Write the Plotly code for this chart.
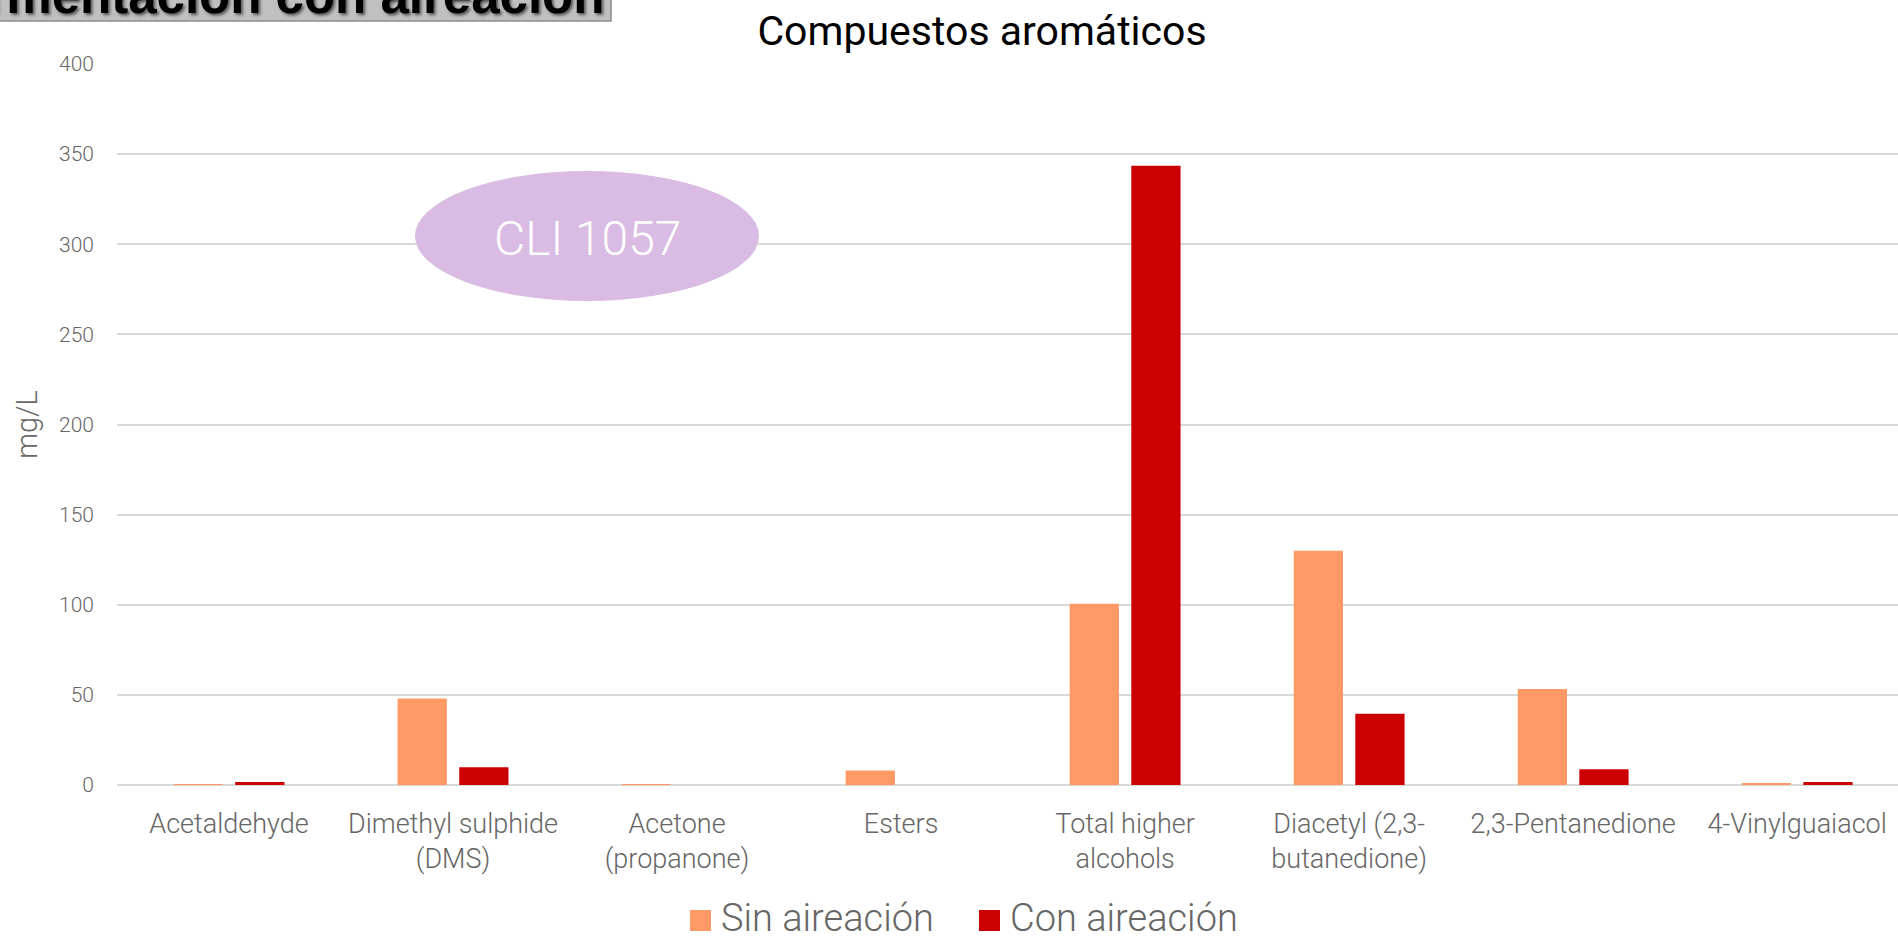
import plotly.graph_objects as go

# Aromatic compounds, mg/L
categories = [
    "Acetaldehyde", "Dimethyl sulphide<br>(DMS)", "Acetone<br>(propanone)", "Esters",
    "Total higher<br>alcohols", "Diacetyl (2,3-<br>butanedione)", "2,3-Pentanedione",
    "4-Vinylguaiacol",
]
sin_aireacion = [0.5, 48, 0.4, 8, 100.5, 130, 53.3, 0.8]
con_aireacion = [1.6, 9.8, 0, 0, 343.5, 39.5, 8.8, 1.6]
y_ticks = [0, 50, 100, 150, 200, 250, 300, 350, 400]
series_names = ["Sin aireación", "Con aireación"]

COLOR_SIN = "#FF9966"
COLOR_CON = "#CC0000"
GRID = "#D9D9D9"
TEXT_GRAY = "#666666"
FONT = "Roboto"

W, H = 1898, 936
L, R, T, B = 117, 0, 64, 151


def px_x(p):
    return (p - L) / (W - L - R)


def px_y(p):
    return (H - B - p) / (H - T - B)


fig = go.Figure()
fig.add_trace(go.Bar(
    x=categories, y=sin_aireacion, name=series_names[0],
    marker=dict(color=COLOR_SIN, line=dict(width=0)), showlegend=False,
))
fig.add_trace(go.Bar(
    x=categories, y=con_aireacion, name=series_names[1],
    marker=dict(color=COLOR_CON, line=dict(width=0)), showlegend=False,
))

# CLI 1057 label ellipse
fig.add_shape(
    type="circle", xref="paper", yref="paper",
    x0=px_x(415), x1=px_x(759), y0=px_y(301), y1=px_y(171),
    fillcolor="#D9BBE3", line=dict(width=0), layer="above",
)
fig.add_annotation(
    text="CLI 1057", xref="paper", yref="paper", x=px_x(587), y=px_y(238),
    xanchor="center", yanchor="middle", showarrow=False,
    font=dict(family=FONT, size=48, color="white", weight=300),
)

# cropped slide banner in the top-left corner
fig.add_shape(
    type="rect", xref="paper", yref="paper",
    x0=px_x(-10), x1=px_x(611), y0=px_y(21), y1=px_y(-10),
    fillcolor="#C0C0C0", line=dict(color="#8C8C8C", width=1.5), layer="above",
)
fig.add_annotation(
    text="Fermentación con aireación", xref="paper", yref="paper",
    x=px_x(606), y=px_y(26), xanchor="right", yanchor="bottom", showarrow=False,
    font=dict(family="Liberation Sans", size=51, color="black", weight="bold",
              shadow="2px 2px 3px #555555"),
)

# legend drawn by hand so the swatches can be as large as in the original
legend_items = [(series_names[0], COLOR_SIN, 690), (series_names[1], COLOR_CON, 979)]
for name, color, x0 in legend_items:
    fig.add_shape(
        type="rect", xref="paper", yref="paper",
        x0=px_x(x0), x1=px_x(x0 + 21), y0=px_y(931), y1=px_y(910),
        fillcolor=color, line=dict(width=0),
    )
    fig.add_annotation(
        text=name, xref="paper", yref="paper", x=px_x(x0 + 29), y=px_y(918),
        xanchor="left", yanchor="middle", showarrow=False,
        font=dict(family=FONT, size=38, color=TEXT_GRAY, weight=300),
    )

fig.update_layout(
    width=W, height=H,
    margin=dict(l=L, r=R, t=T, b=B),
    paper_bgcolor="white", plot_bgcolor="white",
    barmode="group", bargap=0.45, bargroupgap=0.2,
    showlegend=False,
    title=dict(text="Compuestos aromáticos", x=982 / W,
               xanchor="center", y=1 - 31 / H, yanchor="middle",
               font=dict(family=FONT, size=41, color="black")),
    font=dict(family=FONT, color=TEXT_GRAY),
    xaxis=dict(range=[-0.5, 7.45], showgrid=False, showline=False, ticks="",
               ticklabelstandoff=20,
               tickfont=dict(size=27, color=TEXT_GRAY, weight=300), fixedrange=True),
    yaxis=dict(range=[0, 400], tickvals=y_ticks, showgrid=True, gridcolor=GRID,
               gridwidth=1.5, zeroline=True, zerolinecolor=GRID, zerolinewidth=2,
               ticks="", ticklabelstandoff=22,
               tickfont=dict(size=21, color=TEXT_GRAY, weight=300),
               title=dict(text="mg/L", font=dict(size=29, color=TEXT_GRAY, weight=300),
                          standoff=12)),
)

fig.write_html("out.html", config={"displayModeBar": False},
               post_script="document.body.style.margin='0';")
